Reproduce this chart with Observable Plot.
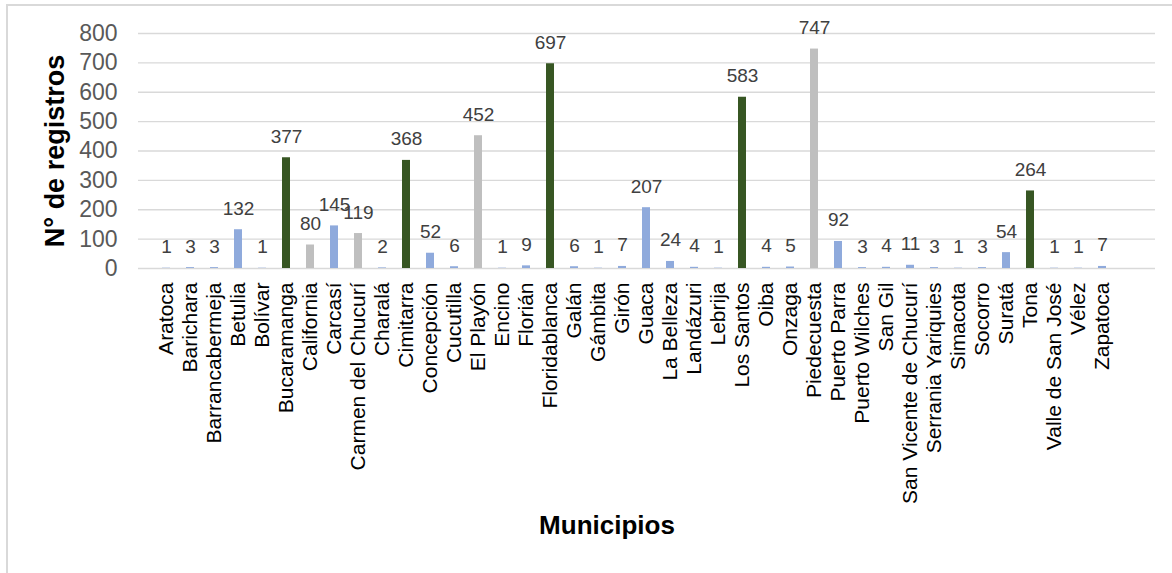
<!DOCTYPE html>
<html>
<head>
<meta charset="utf-8">
<script src="https://cdn.jsdelivr.net/npm/d3@7"></script>
<script src="https://cdn.jsdelivr.net/npm/@observablehq/plot@0.6"></script>
<style>
  html, body { margin: 0; padding: 0; background: #fff; }
  #wrap { position: relative; width: 1172px; height: 573px; overflow: hidden; }
  #frame { position: absolute; left: 6px; top: 4px; width: 1200px; height: 600px;
           border-left: 2px solid #d9d9d9; border-top: 2px solid #d9d9d9; box-sizing: border-box; }
  #chart { position: absolute; left: 0; top: 0; }
</style>
</head>
<body>
<div id="wrap">
  <div id="frame"></div>
  <div id="chart"></div>
</div>
<script>
// Municipalities on the x axis, in order
const municipios = [
  "Aratoca", "Barichara", "Barrancabermeja", "Betulia", "Bolívar", "Bucaramanga",
  "California", "Carcasí", "Carmen del Chucurí", "Charalá", "Cimitarra", "Concepción",
  "Cucutilla", "El Playón", "Encino", "Florián", "Floridablanca", "Galán", "Gámbita",
  "Girón", "Guaca", "La Belleza", "Landázuri", "Lebrija", "Los Santos", "Oiba", "Onzaga",
  "Piedecuesta", "Puerto Parra", "Puerto Wilches", "San Gil", "San Vicente de Chucurí",
  "Serrania Yariquies", "Simacota", "Socorro", "Suratá", "Tona", "Valle de San José",
  "Vélez", "Zapatoca"
];

// Number of records per municipality
const registros = [
  1, 3, 3, 132, 1, 377,
  80, 145, 119, 2, 368, 52,
  6, 452, 1, 9, 697, 6, 1,
  7, 207, 24, 4, 1, 583, 4, 5,
  747, 92, 3, 4, 11,
  3, 1, 3, 54, 264, 1,
  1, 7
];

// Group of each municipality (drives the bar colour)
const grupos = [
  "A", "A", "A", "A", "A", "B",
  "C", "A", "C", "A", "B", "A",
  "A", "C", "A", "A", "B", "A", "A",
  "A", "A", "A", "A", "A", "B", "A", "A",
  "C", "A", "A", "A", "A",
  "A", "A", "A", "A", "B", "A",
  "A", "A"
];

const yTicks = [0, 100, 200, 300, 400, 500, 600, 700, 800];

const data = municipios.map((m, i) => ({municipio: m, registros: registros[i], grupo: grupos[i]}));

const chart = Plot.plot({
  width: 1172,
  height: 573,
  marginLeft: 138,
  marginRight: 17,
  marginTop: 33,
  marginBottom: 305,
  style: {fontFamily: "'Liberation Sans', Arial, sans-serif", background: "transparent", overflow: "visible"},
  x: {domain: municipios, range: [138, 1131], padding: 0.665, label: null},
  y: {domain: [0, 800], ticks: yTicks, label: null},
  color: {domain: ["A", "B", "C"], range: ["#8faadc", "#375623", "#bfbfbf"]},
  marks: [
    Plot.gridY(yTicks, {stroke: "#d9d9d9", strokeOpacity: 1, strokeWidth: 1.4}),
    Plot.barY(data, {x: "municipio", y: "registros", fill: "grupo"}),
    Plot.text(data, {
      x: "municipio", y: "registros", text: d => String(d.registros),
      lineAnchor: "bottom", dy: -15, fontSize: 19, fill: "#404040"
    }),
    Plot.axisY(yTicks, {tickSize: 0, tickPadding: 21, fontSize: 23, color: "#595959", label: null}),
    Plot.axisX({tickSize: 0, tickRotate: -90, tickPadding: 14, fontSize: 21, color: "#000", label: null}),
    // rotated y-axis title, centred on the plot height
    Plot.text(["N° de registros"], {
      frameAnchor: "left", textAnchor: "middle", lineAnchor: "middle", rotate: -90, dx: -83,
      fontSize: 27, fontWeight: "bold", fill: "#000"
    }),
    Plot.text(["Municipios"], {
      frameAnchor: "bottom", dx: -40, dy: 257, lineAnchor: "middle",
      fontSize: 26, fontWeight: "bold", fill: "#000"
    })
  ]
});

document.getElementById("chart").append(chart);
</script>
</body>
</html>
